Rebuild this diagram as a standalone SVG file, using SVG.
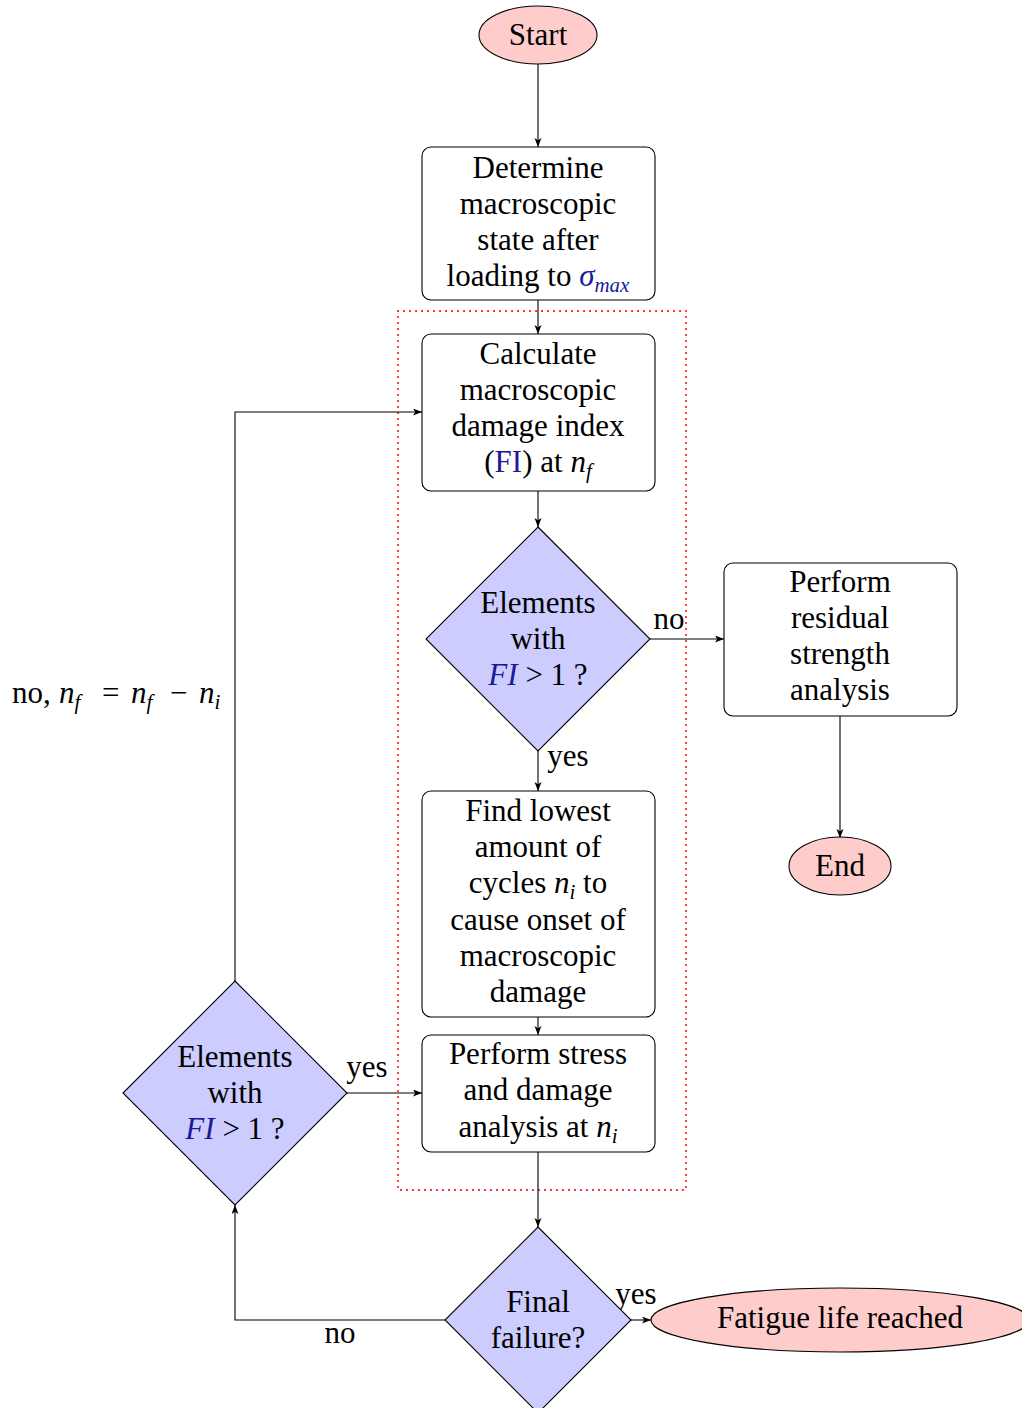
<svg xmlns="http://www.w3.org/2000/svg" width="1022" height="1408" viewBox="0 0 1022 1408">
<style>
.t{font-family:"Liberation Serif","Times New Roman",serif;font-size:31px;fill:#000;text-anchor:middle}
.l{text-anchor:start}
.m{font-style:italic}
.s{font-style:italic;font-size:21px}
.b{fill:#1a1a99}
.box{fill:#fff;stroke:#000;stroke-width:1.1}
.dia{fill:#ccccff;stroke:#000;stroke-width:1.1}
.ell{fill:#ffcccc;stroke:#000;stroke-width:1.1}
.c{fill:none;stroke:#000;stroke-width:1.1}
</style>
<defs>
<marker id="ar" markerUnits="userSpaceOnUse" markerWidth="10" markerHeight="8" refX="9" refY="3.5" orient="auto">
<path d="M0,0 L9,3.5 L0,7 L2.2,3.5 z" fill="#000"/>
</marker>
</defs>
<rect x="398" y="311" width="288" height="879" fill="none" stroke="#ff0000" stroke-width="2" stroke-dasharray="0.1 5.9" stroke-linecap="round"/>
<g id="connectors">
<path class="c" d="M538,64 L538,147" marker-end="url(#ar)"/>
<path class="c" d="M538,300 L538,334" marker-end="url(#ar)"/>
<path class="c" d="M538,491 L538,527" marker-end="url(#ar)"/>
<path class="c" d="M650,639 L724,639" marker-end="url(#ar)"/>
<path class="c" d="M840,716 L840,838" marker-end="url(#ar)"/>
<path class="c" d="M538,751 L538,791" marker-end="url(#ar)"/>
<path class="c" d="M538,1017 L538,1035" marker-end="url(#ar)"/>
<path class="c" d="M538,1152 L538,1227" marker-end="url(#ar)"/>
<path class="c" d="M631,1320 L651,1320" marker-end="url(#ar)"/>
<path class="c" d="M445,1320 L235,1320 L235,1205" marker-end="url(#ar)"/>
<path class="c" d="M347,1093 L422,1093" marker-end="url(#ar)"/>
<path class="c" d="M235,981 L235,412 L422,412" marker-end="url(#ar)"/>
<text class="t" x="669" y="629">no</text>
<text class="t" x="568" y="766">yes</text>
<text class="t" x="367" y="1077">yes</text>
<text class="t" x="636" y="1304">yes</text>
<text class="t" x="340" y="1343">no</text>
<text class="t l" x="12" y="703">no,<tspan class="m" x="59">n</tspan><tspan class="s" dy="6">f</tspan><tspan x="102" dy="-6">=</tspan><tspan class="m" x="131">n</tspan><tspan class="s" dy="6">f</tspan><tspan x="170" dy="-6">−</tspan><tspan class="m" x="199">n</tspan><tspan class="s" dy="6">i</tspan></text>
</g>
<g id="start">
<ellipse class="ell" cx="538" cy="35" rx="59" ry="29"/>
<text class="t" x="538" y="45">Start</text>
</g>
<g id="determine">
<rect class="box" x="422" y="147" width="233" height="153" rx="9"/>
<text class="t" x="538" y="178">Determine</text>
<text class="t" x="538" y="214">macroscopic</text>
<text class="t" x="538" y="250">state after</text>
<text class="t" x="538" y="286">loading to <tspan class="m b">σ</tspan><tspan class="s b" dy="6">max</tspan></text>
</g>
<g id="calculate">
<rect class="box" x="422" y="334" width="233" height="157" rx="9"/>
<text class="t" x="538" y="364">Calculate</text>
<text class="t" x="538" y="400">macroscopic</text>
<text class="t" x="538" y="436">damage index</text>
<text class="t" x="538" y="472">(<tspan class="b">FI</tspan>) at <tspan class="m">n</tspan><tspan class="s" dy="6">f</tspan></text>
</g>
<g id="decision1">
<polygon class="dia" points="538,527 650,639 538,751 426,639"/>
<text class="t" x="538" y="613">Elements</text>
<text class="t" x="538" y="649">with</text>
<text class="t" x="538" y="685"><tspan class="m b">FI</tspan> &gt; 1 ?</text>
</g>
<g id="residual">
<rect class="box" x="724" y="563" width="233" height="153" rx="9"/>
<text class="t" x="840" y="592">Perform</text>
<text class="t" x="840" y="628">residual</text>
<text class="t" x="840" y="664">strength</text>
<text class="t" x="840" y="700">analysis</text>
</g>
<g id="end">
<ellipse class="ell" cx="840" cy="866" rx="51" ry="29"/>
<text class="t" x="840" y="876">End</text>
</g>
<g id="findlowest">
<rect class="box" x="422" y="791" width="233" height="226" rx="9"/>
<text class="t" x="538" y="821">Find lowest</text>
<text class="t" x="538" y="857">amount of</text>
<text class="t" x="538" y="893">cycles <tspan class="m">n</tspan><tspan class="s" dy="6">i</tspan><tspan dy="-6"> to</tspan></text>
<text class="t" x="538" y="930">cause onset of</text>
<text class="t" x="538" y="966">macroscopic</text>
<text class="t" x="538" y="1002">damage</text>
</g>
<g id="stress">
<rect class="box" x="422" y="1035" width="233" height="117" rx="9"/>
<text class="t" x="538" y="1064">Perform stress</text>
<text class="t" x="538" y="1100">and damage</text>
<text class="t" x="538" y="1137">analysis at <tspan class="m">n</tspan><tspan class="s" dy="6">i</tspan></text>
</g>
<g id="decision2">
<polygon class="dia" points="235,981 347,1093 235,1205 123,1093"/>
<text class="t" x="235" y="1067">Elements</text>
<text class="t" x="235" y="1103">with</text>
<text class="t" x="235" y="1139"><tspan class="m b">FI</tspan> &gt; 1 ?</text>
</g>
<g id="finalfailure">
<polygon class="dia" points="538,1227 631,1320 538,1413 445,1320"/>
<text class="t" x="538" y="1312">Final</text>
<text class="t" x="538" y="1348">failure?</text>
</g>
<g id="fatigue">
<ellipse class="ell" cx="840" cy="1320" rx="189" ry="32"/>
<text class="t" x="840" y="1328">Fatigue life reached</text>
</g>
</svg>
